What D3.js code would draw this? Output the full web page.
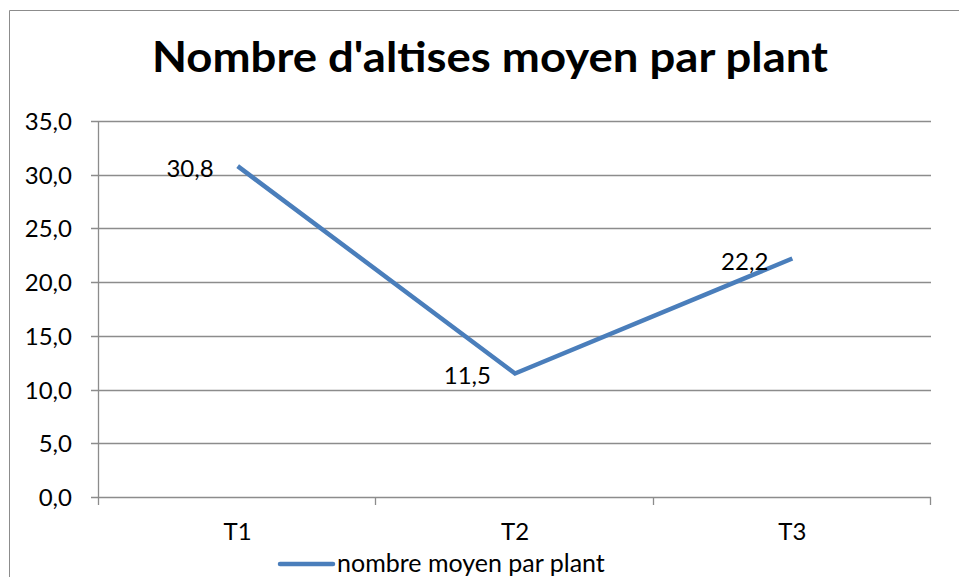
<!DOCTYPE html>
<html>
<head>
<meta charset="utf-8">
<script src="https://cdn.jsdelivr.net/npm/d3@7"></script>
<style>
    body { margin: 0; background: #fff; }
    svg { display: block; font-family: Lato, "Open Sans", sans-serif; }
</style>
</head>
<body>
<svg id="chart" width="959" height="577"></svg>
<script>
// data
var categories = ["T1", "T2", "T3"];
var values = [30.8, 11.5, 22.2];
var yTicks = [0, 5, 10, 15, 20, 25, 30, 35];
var seriesName = "nombre moyen par plant";
var title = "Nombre d'altises moyen par plant";

var svg = d3.select("#chart");
var plotLeft = 99, plotRight = 931, plotTop = 121, plotBottom = 497;

// french style numbers (comma decimal)
var fr = d3.formatLocale({ decimal: ",", thousands: " ", grouping: [3], currency: ["", " €"] });
var fmt = fr.format(".1f");

// frame around the chart
svg.append("path")
    .attr("d", "M9.5,577 V10.5 H959")
    .attr("fill", "none")
    .attr("stroke", "#8c8c8c")
    .attr("stroke-width", 1);

svg.append("text")
    .attr("x", 490)
    .attr("y", 72)
    .attr("text-anchor", "middle")
    .attr("textLength", 676)
    .attr("lengthAdjust", "spacingAndGlyphs")
    .style("font-size", "42px")
    .style("font-weight", "bold")
    .text(title);

var x = d3.scaleBand().domain(categories).range([plotLeft, plotRight]);
var y = d3.scaleLinear().domain([0, 35]).range([plotBottom, plotTop]);

// gridlines
svg.append("g")
    .selectAll("line")
    .data(yTicks)
    .enter()
    .append("line")
    .attr("x1", plotLeft - 8)
    .attr("x2", plotRight)
    .attr("y1", function(d) { return Math.round(y(d)) + 0.5; })
    .attr("y2", function(d) { return Math.round(y(d)) + 0.5; })
    .attr("stroke", "#8c8c8c")
    .attr("stroke-width", 1.3);

// y axis labels
svg.append("g")
    .selectAll("text")
    .data(yTicks)
    .enter()
    .append("text")
    .attr("x", 72)
    .attr("y", function(d) { return y(d) + 9; })
    .attr("text-anchor", "end")
    .style("font-size", "24px")
    .text(function(d) { return fmt(d); });

// y axis line
svg.append("line")
    .attr("x1", plotLeft - 0.5).attr("x2", plotLeft - 0.5)
    .attr("y1", plotTop).attr("y2", plotBottom + 8)
    .attr("stroke", "#8c8c8c")
    .attr("stroke-width", 1.3);

// x axis ticks between categories
var bounds = categories.map(function(c) { return x(c); }).concat([plotRight]);
svg.append("g")
    .selectAll("line")
    .data(bounds.slice(1))
    .enter()
    .append("line")
    .attr("x1", function(d) { return Math.round(d) - 0.5; })
    .attr("x2", function(d) { return Math.round(d) - 0.5; })
    .attr("y1", plotBottom)
    .attr("y2", plotBottom + 8)
    .attr("stroke", "#8c8c8c")
    .attr("stroke-width", 1.3);

svg.append("g")
    .selectAll("text")
    .data(categories)
    .enter()
    .append("text")
    .attr("x", function(d) { return x(d) + x.bandwidth() / 2; })
    .attr("y", 540)
    .attr("text-anchor", "middle")
    .style("font-size", "24px")
    .text(function(d) { return d; });

// the line
var pts = categories.map(function(c, i) {
    return { cat: c, v: values[i] };
});
var line = d3.line()
    .x(function(d) { return x(d.cat) + x.bandwidth() / 2; })
    .y(function(d) { return y(d.v); });

svg.append("path")
    .datum(pts)
    .attr("d", line)
    .attr("fill", "none")
    .attr("stroke", "#4a7ebb")
    .attr("stroke-width", 4.5)
    .attr("stroke-linejoin", "miter");

// data labels, left of the points
svg.append("g")
    .selectAll("text")
    .data(pts)
    .enter()
    .append("text")
    .attr("x", function(d) { return x(d.cat) + x.bandwidth() / 2 - 24; })
    .attr("y", function(d) { return y(d.v) + 11; })
    .attr("text-anchor", "end")
    .style("font-size", "24px")
    .text(function(d) { return fmt(d.v); });

// legend
svg.append("line")
    .attr("x1", 280).attr("x2", 333)
    .attr("y1", 564).attr("y2", 564)
    .attr("stroke", "#4a7ebb")
    .attr("stroke-width", 4.5)
    .attr("stroke-linecap", "round");

svg.append("text")
    .attr("x", 337)
    .attr("y", 572)
    .style("font-size", "25px")
    .text(seriesName);
</script>
</body>
</html>
